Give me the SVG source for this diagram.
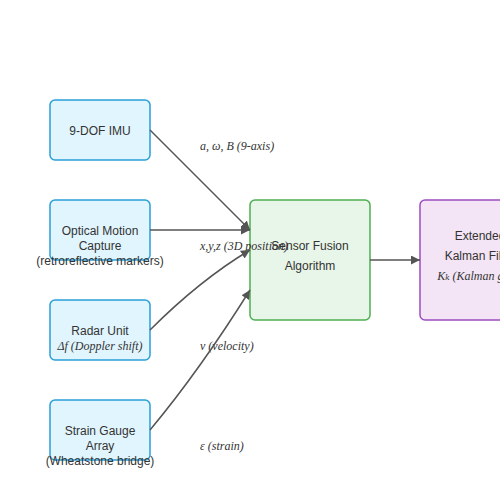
<svg xmlns="http://www.w3.org/2000/svg" width="500" height="500" viewBox="0 0 500 500">
<defs>
<style>
.src{fill:#e1f5fe;stroke:#2a9fd8;stroke-width:1.5}
.fus{fill:#e8f5e9;stroke:#4caf50;stroke-width:1.5}
.ekf{fill:#f3e5f5;stroke:#9c4dc0;stroke-width:1.5}
.t{font-family:"Liberation Sans",Arial,sans-serif;font-size:12px;fill:#333;text-anchor:middle}
.m{font-family:"Liberation Serif","DejaVu Serif",serif;font-style:italic;font-size:12px;fill:#333}
.c{font-family:"Liberation Serif","DejaVu Serif",serif;font-style:italic;font-size:12px;fill:#333;text-anchor:middle}
.e{fill:none;stroke:#555;stroke-width:1.5}
</style>
<marker id="ah" viewBox="0 0 10 10" refX="10" refY="5" markerWidth="6" markerHeight="6" orient="auto" markerUnits="strokeWidth">
<path d="M0,0 L10,5 L0,10 z" fill="#555"/>
</marker>
</defs>
<rect width="500" height="500" fill="#ffffff"/>
<g id="imu">
<rect class="src" x="50" y="100" width="100" height="60" rx="5"/>
<text class="t" x="100" y="135">9-DOF IMU</text>
</g>
<g id="optical">
<rect class="src" x="50" y="200" width="100" height="60" rx="5"/>
<text class="t" x="100" y="235">Optical Motion</text>
<text class="t" x="100" y="250">Capture</text>
<text class="t" x="100" y="265">(retroreflective markers)</text>
</g>
<g id="radar">
<rect class="src" x="50" y="300" width="100" height="60" rx="5"/>
<text class="t" x="100" y="335">Radar Unit</text>
<text class="c" x="100" y="350">Δf (Doppler shift)</text>
</g>
<g id="strain">
<rect class="src" x="50" y="400" width="100" height="60" rx="5"/>
<text class="t" x="100" y="435">Strain Gauge</text>
<text class="t" x="100" y="450">Array</text>
<text class="t" x="100" y="465">(Wheatstone bridge)</text>
</g>
<g id="fusion">
<rect class="fus" x="250" y="200" width="120" height="120" rx="5"/>
<text class="t" x="310" y="250">Sensor Fusion</text>
<text class="t" x="310" y="270">Algorithm</text>
</g>
<g id="ekf">
<rect class="ekf" x="420" y="200" width="120" height="120" rx="5"/>
<text class="t" x="480" y="240">Extended</text>
<text class="t" x="480" y="260">Kalman Filter</text>
<text class="c" x="480" y="280">Kₖ (Kalman gain)</text>
</g>
<g id="connectors">
<text class="m" x="200" y="150">a, ω, B (9-axis)</text>
<text class="m" x="200" y="250">x,y,z (3D position)</text>
<text class="m" x="200" y="350">v (velocity)</text>
<text class="m" x="200" y="450">ε (strain)</text>
<path class="e" d="M150,130 L250,230" marker-end="url(#ah)"/>
<path class="e" d="M150,230 L250,230" marker-end="url(#ah)"/>
<path class="e" d="M150,330 Q200,280 250,250" marker-end="url(#ah)"/>
<path class="e" d="M150,430 Q200,370 250,290" marker-end="url(#ah)"/>
<path class="e" d="M370,260 L420,260" marker-end="url(#ah)"/>
</g>
</svg>
